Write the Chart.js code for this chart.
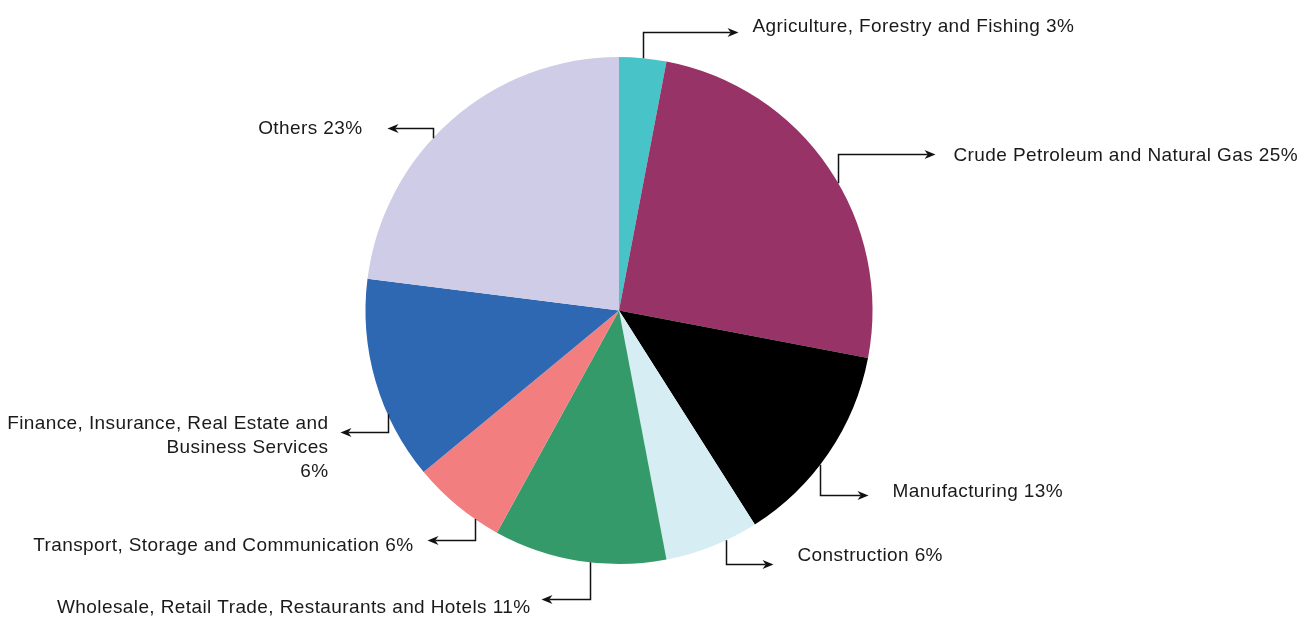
<!DOCTYPE html>
<html>
<head>
<meta charset="utf-8">
<script src="https://cdn.jsdelivr.net/npm/chart.js@4/dist/chart.umd.min.js"></script>
<style>
  html, body { margin: 0; padding: 0; background: #ffffff; }
  #wrap { width: 1301px; height: 619px; }
</style>
</head>
<body>
<div id="wrap"><canvas id="pie" width="1301" height="619"></canvas></div>
<script>
// Sector shares of GDP (%)
const categories = [
  'Agriculture, Forestry and Fishing',
  'Crude Petroleum and Natural Gas',
  'Manufacturing',
  'Construction',
  'Wholesale, Retail Trade, Restaurants and Hotels',
  'Transport, Storage and Communication',
  'Finance, Insurance, Real Estate and\nBusiness Services',
  'Others'
];
const shares = [3, 25, 13, 6, 11, 6, 13, 23];
const shareLabels = ['3%', '25%', '13%', '6%', '11%', '6%', '6%', '23%'];

const sliceColors = [
  '#48c3c8', '#973366', '#000000', '#d5edf3',
  '#359a69', '#f27e80', '#2f68b2', '#cfcce7'
];

// Callout layout per slice:
// t = position along the slice's arc (0..1), v = vertical leg, h = horizontal leg (sign = side),
// gap = space between arrow tip and text, dy = text offset from the horizontal leg,
// pctLine = put the percentage on its own line
const callouts = [
  { t: 0.50, v: -26, h:  95, gap: 14, dy: -6 },
  { t: 0.545, v: -29, h:  97, gap: 18, dy: 1 },
  { t: 0.57, v:  30, h:  48, gap: 24, dy: -3.5 },
  { t: 0.34, v:  24, h:  47, gap: 24, dy: -8.5 },
  { t: 0.44, v:  37, h: -49, gap: 11, dy: 8 },
  { t: 0.27, v:  21, h: -48, gap: 14, dy: 5.5 },
  { t: 0.33, v:  18, h: -48, gap: 12, dy: -9, pctLine: true },
  { t: 0.43, v: -10, h: -46, gap: 25, dy: 0 }
];

const FONT = '19px "Liberation Sans", Arial, sans-serif';
const LINE_H = 24;

const calloutPlugin = {
  id: 'callouts',
  afterDatasetsDraw(chart) {
    const ctx = chart.ctx;
    const meta = chart.getDatasetMeta(0);
    ctx.save();
    ctx.strokeStyle = '#111111';
    ctx.fillStyle = '#111111';
    ctx.lineWidth = 1.5;
    ctx.font = FONT;
    if ('letterSpacing' in ctx) ctx.letterSpacing = '0.4px';
    ctx.textBaseline = 'middle';
    meta.data.forEach((arc, i) => {
      const c = callouts[i];
      const p = arc.getProps(['x', 'y', 'startAngle', 'endAngle', 'outerRadius'], true);
      const a = p.startAngle + c.t * (p.endAngle - p.startAngle);
      const x0 = Math.round(p.x + p.outerRadius * Math.cos(a)) + 0.5;
      const y0 = p.y + p.outerRadius * Math.sin(a);
      const y1 = Math.round(y0 + c.v) + 0.5;
      const dir = Math.sign(c.h);
      const xTip = x0 + c.h;
      const head = 11, half = 4.5;

      ctx.beginPath();
      ctx.moveTo(x0, y0);
      ctx.lineTo(x0, y1);
      ctx.lineTo(xTip - dir * head * 0.7, y1);
      ctx.stroke();

      ctx.beginPath();
      ctx.moveTo(xTip, y1);
      ctx.lineTo(xTip - dir * head, y1 - half);
      ctx.lineTo(xTip - dir * head * 0.7, y1);
      ctx.lineTo(xTip - dir * head, y1 + half);
      ctx.closePath();
      ctx.fill();

      const lines = categories[i].split('\n');
      if (c.pctLine) lines.push(shareLabels[i]);
      else lines[lines.length - 1] += ' ' + shareLabels[i];

      ctx.fillStyle = '#1a1a1a';
      ctx.textAlign = dir > 0 ? 'left' : 'right';
      const tx = xTip + dir * c.gap;
      lines.forEach((ln, k) => {
        ctx.fillText(ln, tx, y1 + c.dy + k * LINE_H);
      });
      ctx.fillStyle = '#111111';
    });
    ctx.restore();
  }
};

new Chart(document.getElementById('pie'), {
  type: 'pie',
  data: {
    labels: categories,
    datasets: [{
      data: shares,
      backgroundColor: sliceColors,
      borderWidth: 0
    }]
  },
  options: {
    responsive: false,
    animation: false,
    layout: { padding: { left: 0, right: 63, top: 57, bottom: 55 } },
    plugins: {
      legend: { display: false },
      tooltip: { enabled: false }
    }
  },
  plugins: [calloutPlugin]
});
</script>
</body>
</html>
